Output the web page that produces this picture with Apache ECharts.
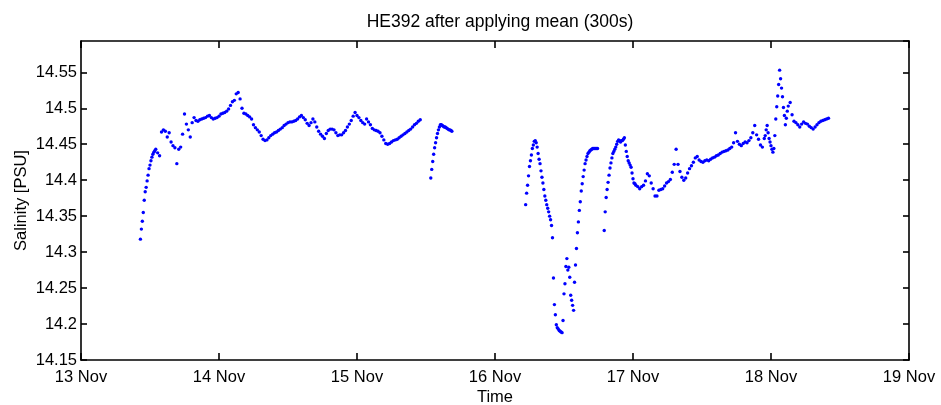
<!DOCTYPE html>
<html><head><meta charset="utf-8">
<script src="https://cdn.jsdelivr.net/npm/echarts@6/dist/echarts.min.js"></script>
<style>html,body{margin:0;padding:0;background:#fff}#c{width:941px;height:405px}</style>
</head><body><div id="c"></div>
<script>
const xTickLabels = ['13 Nov','14 Nov','15 Nov','16 Nov','17 Nov','18 Nov','19 Nov'];
const yTicks = [14.15,14.2,14.25,14.3,14.35,14.4,14.45,14.5,14.55];
const yTickLabels = ['14.15','14.2','14.25','14.3','14.35','14.4','14.45','14.5','14.55'];

// segment starts (year assumed 2012), step in minutes
const segStarts = ['2012-11-13 10:20','2012-11-13 13:20','2012-11-15 12:50','2012-11-16 05:20',
                   '2012-11-16 19:00','2012-11-17 00:50','2012-11-17 23:00','2012-11-18 03:20'];
const segSteps = [10,20,10,10,10,20,10,20];

const seg1Rise = [14.318,14.332,14.343,14.355,14.372,14.384,14.390,14.399,14.407,14.416,14.421,14.427,14.432,14.436,14.439,14.441,14.443];
const seg1Main = [14.438,14.434,14.467,14.470,14.468,14.460,14.466,14.453,14.448,14.445,
 14.423,14.443,14.446,14.464,14.492,14.478,14.470,14.460,14.480,14.487,
 14.483,14.482,14.484,14.485,14.486,14.487,14.489,14.490,14.487,14.485,
 14.486,14.487,14.489,14.492,14.493,14.494,14.496,14.499,14.504,14.509,
 14.511,14.520,14.522,14.513,14.500,14.493,14.492,14.490,14.488,14.485,
 14.477,14.473,14.470,14.467,14.462,14.457,14.455,14.456,14.459,14.462,
 14.464,14.466,14.467,14.469,14.471,14.473,14.476,14.478,14.480,14.481,
 14.481,14.482,14.483,14.485,14.488,14.490,14.487,14.484,14.479,14.476,
 14.480,14.485,14.481,14.474,14.468,14.464,14.461,14.458,14.465,14.469,
 14.471,14.471,14.470,14.466,14.462,14.463,14.463,14.466,14.469,14.474,
 14.478,14.483,14.489,14.494,14.490,14.487,14.483,14.480,14.478,14.485,
 14.481,14.477,14.472,14.470,14.469,14.468,14.466,14.461,14.456,14.451,
 14.450,14.451,14.453,14.455,14.456,14.457,14.459,14.461,14.463,14.465,
 14.467,14.469,14.471,14.474,14.477,14.479,14.482,14.484];
const seg1b = [14.403,14.415,14.426,14.436,14.445,14.452,14.459,14.465,14.470,14.474,14.477,14.477,
 14.476,14.475,14.474,14.474,14.473,14.472,14.471,14.470,14.470,14.469,14.468];
const seg2 = [14.366,14.382,14.393,14.406,14.419,14.427,14.435,14.444,14.449,14.454,
 14.455,14.452,14.446,14.437,14.429,14.423,14.413,14.404,14.396,14.387,
 14.378,14.372,14.366,14.361,14.356,14.350,14.345,14.337,14.320,14.264,
 14.227,14.213,14.199,14.195,14.193,14.191,14.190,14.189,14.188,14.205,
 14.242,14.256,14.280,14.291,14.275,14.279,14.265,14.240,14.233,14.226,
 14.219,14.258,14.282,14.305,14.327,14.342,14.358,14.370,14.385,14.395,
 14.405,14.414,14.423,14.428,14.433,14.437,14.439,14.441,14.442,14.443,
 14.444,14.444,14.444,14.444,14.444,14.444];
const seg3a = [14.330,14.356,14.376,14.387,14.397,14.407,14.417,14.424,14.431,14.437,
 14.440,14.443,14.446,14.450,14.454,14.456,14.455,14.453,14.455,14.455,
 14.457,14.459,14.449,14.440,14.433,14.427,14.424,14.421,14.418,14.410,
 14.402,14.396,14.395,14.393];
const seg3b = [14.391,14.388,14.391,14.393,14.399,14.409,14.406,14.396,14.388,14.378,
 14.378,14.386,14.387,14.388,14.392,14.396,14.398,14.401,14.411,14.422,
 14.443,14.422,14.412,14.404,14.400,14.403,14.410,14.416,14.420,14.425,
 14.431,14.433,14.428,14.426,14.425,14.427,14.428,14.427,14.429,14.431,
 14.432,14.434,14.435,14.437,14.439,14.440,14.441,14.442,14.444,14.446,
 14.452,14.466,14.454,14.450,14.448,14.451,14.453,14.452,14.455,14.459,
 14.466,14.476,14.463,14.457,14.449,14.446,14.458];
const seg3c = [14.462,14.470,14.476,14.466,14.458,14.453,14.448,14.443,14.439,14.444,
 14.462,14.485,14.502,14.517,14.533,14.553,14.541,14.528,14.516,14.501,
 14.490,14.477,14.486,14.496,14.503];
const seg3d = [14.508,14.491,14.482,14.480,14.477,14.474,14.478,14.481,14.479,14.478,
 14.475,14.473,14.471,14.474,14.477,14.480,14.482,14.483,14.484,14.485,14.486];

const segValues = [seg1Rise, seg1Main, seg1b, seg2, seg3a, seg3b, seg3c, seg3d];

function parseLocal(s){
  const [d,t] = s.split(' ');
  const [Y,M,D] = d.split('-').map(Number);
  const [h,m] = t.split(':').map(Number);
  return new Date(Y, M-1, D, h, m).getTime();
}
const points = [];
segValues.forEach((vals, k) => {
  const t0 = parseLocal(segStarts[k]);
  vals.forEach((v, i) => points.push([t0 + i*segSteps[k]*60000, v]));
});

const DAY = 86400000;
const xMin = new Date(2012,10,13).getTime();
const xMax = new Date(2012,10,19).getTime();
const FONT = 'Liberation Sans, Arial, Helvetica, sans-serif';

function yLab(v){
  for (let i=0;i<yTicks.length;i++) if (Math.abs(v-yTicks[i])<1e-6) return yTickLabels[i];
  return '';
}
function xLab(v){
  const i = Math.round((v - xMin)/DAY);
  return xTickLabels[i] || '';
}

const axisBaseX = {
  type:'time', min:xMin, max:xMax, minInterval:DAY, maxInterval:DAY, splitNumber:6,
  axisLine:{show:true, lineStyle:{color:'#000', width:1.6}},
  axisTick:{show:true, inside:true, length:7, lineStyle:{color:'#000', width:1.6}},
  splitLine:{show:false}, minorTick:{show:false}
};
const axisBaseY = {
  type:'value', min:14.15, max:14.5935, interval:0.05, scale:true,
  axisLine:{show:true, lineStyle:{color:'#000', width:1.6}},
  axisTick:{show:true, inside:true, length:6, lineStyle:{color:'#000', width:1.6}},
  splitLine:{show:false}
};

const chart = echarts.init(document.getElementById('c'), null, {renderer:'canvas'});
chart.setOption({
  animation:false,
  backgroundColor:'#fff',
  title:{text:'HE392 after applying mean (300s)', left:495, textAlign:'center', top:8,
    textStyle:{fontFamily:FONT, fontSize:17.5, fontWeight:'normal', color:'#000'}},
  grid:{left:81, right:32, top:41, bottom:45, containLabel:false, outerBoundsMode:'none'},
  xAxis:[
    Object.assign({}, axisBaseX, {position:'bottom', name:'Time', nameLocation:'middle', nameGap:29,
      nameMoveOverlap:false,
      nameTextStyle:{fontFamily:FONT, fontSize:16.5, color:'#000'},
      axisLabel:{show:true, color:'#000', fontFamily:FONT, fontSize:16.5, margin:9, formatter:xLab,
        showMinLabel:true, showMaxLabel:true, hideOverlap:false}}),
    Object.assign({}, axisBaseX, {position:'top', axisLabel:{show:false}})
  ],
  yAxis:[
    Object.assign({}, axisBaseY, {position:'left', name:'Salinity [PSU]', nameLocation:'middle', nameGap:51,
      nameMoveOverlap:false,
      nameTextStyle:{fontFamily:FONT, fontSize:16.5, color:'#000'},
      axisLabel:{show:true, color:'#000', fontFamily:FONT, fontSize:16.5, margin:4, formatter:yLab,
        showMaxLabel:false, hideOverlap:false}}),
    Object.assign({}, axisBaseY, {position:'right', axisLabel:{show:false}})
  ],
  series:[{
    type:'scatter', xAxisIndex:0, yAxisIndex:0, data:points,
    symbol:'circle', symbolSize:3.4,
    itemStyle:{color:'#0000ff', opacity:1}, silent:true
  }]
});
</script></body></html>
